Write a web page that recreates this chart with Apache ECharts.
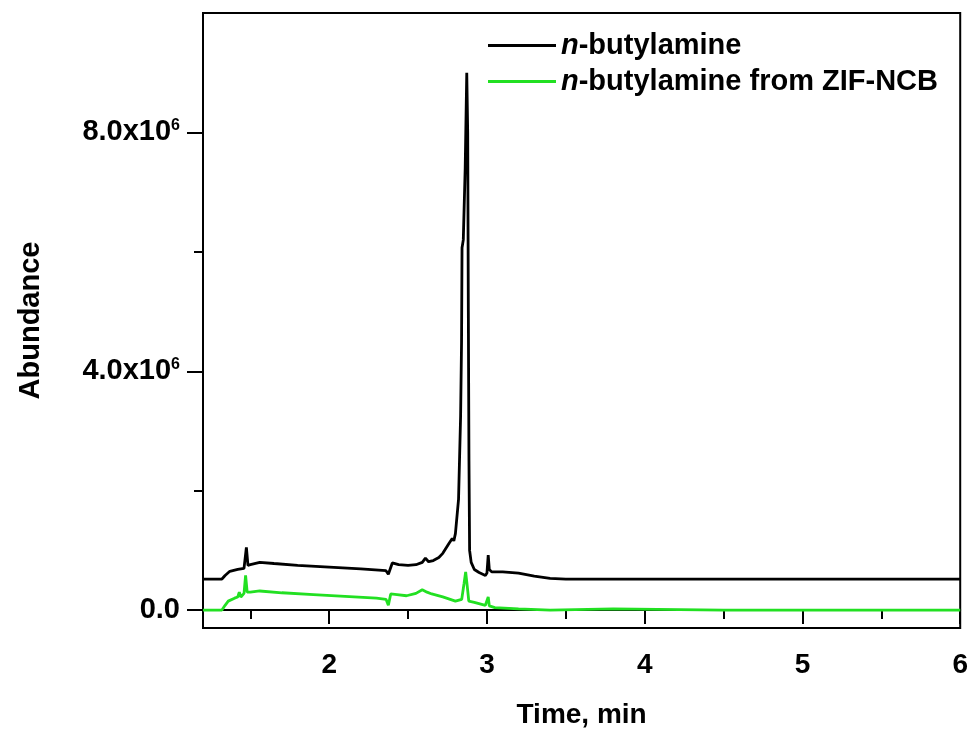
<!DOCTYPE html>
<html>
<head>
<meta charset="utf-8">
<script src="https://cdn.jsdelivr.net/npm/echarts@6/dist/echarts.min.js"></script>
<style>html,body{margin:0;padding:0;background:#fff}#c{width:971px;height:735px}</style>
</head>
<body>
<div id="c"></div>
<script>
// Time (min) and abundance (units of 10^6)
const timeBlack = [1.20,1.32,1.34,1.37,1.42,1.46,1.47,1.475,1.48,1.485,1.50,1.56,1.65,1.80,2.00,2.20,2.36,2.375,2.385,2.40,2.44,2.50,2.55,2.59,2.61,2.63,2.66,2.695,2.72,2.76,2.78,2.79,2.80,2.82,2.833,2.839,2.842,2.85,2.862,2.872,2.878,2.882,2.886,2.89,2.90,2.92,2.95,2.99,3.00,3.008,3.015,3.03,3.10,3.20,3.30,3.40,3.50,3.80,3.81,3.82,4.50,5.00,5.50,6.00];
const abundBlack = [0.52,0.52,0.58,0.65,0.68,0.70,0.72,1.05,1.05,0.75,0.76,0.80,0.78,0.75,0.72,0.69,0.66,0.60,0.58,0.79,0.76,0.75,0.76,0.80,0.87,0.81,0.83,0.88,0.95,1.12,1.20,1.16,1.28,1.86,3.25,4.50,6.07,6.20,7.40,9.00,8.00,5.00,2.50,1.00,0.80,0.68,0.63,0.58,0.62,0.92,0.68,0.64,0.64,0.62,0.57,0.53,0.52,0.52,0.54,0.52,0.52,0.52,0.52,0.52];
const timeGreen = [1.20,1.32,1.34,1.36,1.40,1.42,1.43,1.44,1.46,1.47,1.48,1.50,1.56,1.70,1.90,2.10,2.30,2.36,2.375,2.39,2.43,2.49,2.55,2.59,2.62,2.65,2.72,2.80,2.84,2.855,2.865,2.875,2.885,2.92,2.99,3.00,3.008,3.015,3.05,3.20,3.40,3.80,4.50,5.00,5.50,6.00];
const abundGreen = [0.00,0.00,0.08,0.15,0.20,0.22,0.30,0.22,0.28,0.58,0.30,0.30,0.32,0.29,0.26,0.23,0.20,0.18,0.08,0.27,0.26,0.24,0.28,0.34,0.30,0.27,0.22,0.15,0.18,0.45,0.64,0.40,0.15,0.13,0.08,0.10,0.22,0.07,0.04,0.02,0.00,0.02,0.00,0.00,0.00,0.00];
const seriesNames = ['n-butylamine', 'n-butylamine from ZIF-NCB'];
const xMajorTicks = [2,3,4,5,6];
const xMinorTicks = [1.5,2.5,3.5,4.5,5.5];
const yMajorTicks = [0,4,8];
const yMinorTicks = [2,6];

const FONT = 'Liberation Sans, Arial, sans-serif';
const chart = echarts.init(document.getElementById('c'));
const pair = (xs, ys) => xs.map((x, i) => [x, ys[i]]);
const xBase = {type:'value', min:1.2, max:6, splitLine:{show:false}, gridIndex:0};
const yBase = {type:'value', min:-0.3, max:10, splitLine:{show:false}, gridIndex:0};
chart.setOption({
  animation:false,
  backgroundColor:'#fff',
  grid:{left:203, right:6, top:13, bottom:107, show:true, borderColor:'#000', borderWidth:2, backgroundColor:'transparent'},
  legend:{
    orient:'vertical', left:483, top:26, itemWidth:68, itemHeight:3, itemGap:7, icon:'rect',
    data:seriesNames,
    formatter: n => '{i|n}' + n.slice(1),
    textStyle:{fontFamily:FONT, fontWeight:'bold', fontSize:29, color:'#000', lineHeight:29,
      rich:{i:{fontFamily:FONT, fontStyle:'italic', fontWeight:'bold', fontSize:29, color:'#000'}}}
  },
  xAxis:[
    Object.assign({}, xBase, {
      name:'Time, min', nameLocation:'middle', nameGap:73,
      nameTextStyle:{fontFamily:FONT, fontWeight:'bold', fontSize:28, color:'#000'},
      axisLine:{lineStyle:{color:'#000', width:2}},
      axisTick:{customValues:xMajorTicks, length:14, lineStyle:{color:'#000', width:2}},
      axisLabel:{customValues:xMajorTicks, margin:23, fontFamily:FONT, fontWeight:'bold', fontSize:28, color:'#000'}
    }),
    Object.assign({}, xBase, {
      position:'bottom', axisLine:{show:false}, axisLabel:{show:false},
      axisTick:{customValues:xMinorTicks, length:9, lineStyle:{color:'#000', width:2}}
    })
  ],
  yAxis:[
    Object.assign({}, yBase, {
      name:'Abundance', nameLocation:'middle', nameGap:158,
      nameTextStyle:{fontFamily:FONT, fontWeight:'bold', fontSize:29, color:'#000'},
      axisLine:{lineStyle:{color:'#000', width:2}},
      axisTick:{customValues:yMajorTicks, length:16, lineStyle:{color:'#000', width:2}},
      axisLabel:{customValues:yMajorTicks, margin:23, color:'#000',
        formatter: v => v === 0 ? '{m|0.0}' : '{m|' + v.toFixed(1) + 'x10}{s|6}',
        rich:{m:{fontFamily:FONT, fontWeight:'bold', fontSize:29, color:'#000', lineHeight:30},
              s:{fontFamily:FONT, fontWeight:'bold', fontSize:16, color:'#000', verticalAlign:'top', lineHeight:14}}}
    }),
    Object.assign({}, yBase, {
      position:'left', axisLine:{show:false}, axisLabel:{show:false},
      axisTick:{customValues:yMinorTicks, length:9, lineStyle:{color:'#000', width:2}}
    })
  ],
  series:[
    {name:seriesNames[0], type:'line', xAxisIndex:0, yAxisIndex:0, showSymbol:false, symbol:'none',
     data:pair(timeBlack, abundBlack), lineStyle:{color:'#000', width:2.8}, itemStyle:{color:'#000'}, z:3},
    {name:seriesNames[1], type:'line', xAxisIndex:0, yAxisIndex:0, showSymbol:false, symbol:'none',
     data:pair(timeGreen, abundGreen), lineStyle:{color:'#22e022', width:2.8}, itemStyle:{color:'#22e022'}, z:2}
  ]
});
</script>
</body>
</html>
